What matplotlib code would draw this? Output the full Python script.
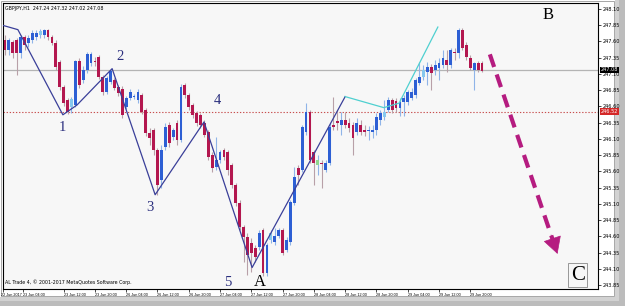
import matplotlib
matplotlib.use("Agg")
import matplotlib.pyplot as plt
from matplotlib.patches import Rectangle, FancyArrowPatch
from matplotlib.transforms import ScaledTranslation
import numpy as np

# ---------------- data (GBPJPY H1 candles) ----------------
opens = [247.62, 247.47, 247.59, 247.62, 247.42, 247.67, 247.58, 247.62, 247.67, 247.70,
         247.70, 247.78, 247.67, 247.58, 247.29, 246.90, 246.70, 246.59, 246.62, 247.30,
         247.01, 247.16, 247.27, 247.30, 247.36, 247.05, 246.82, 246.98, 247.01, 246.90,
         246.87, 246.59, 246.73, 246.75, 246.70, 246.78, 246.55, 246.19, 246.24, 245.93,
         245.47, 245.98, 246.32, 246.13, 246.35, 246.08, 246.93, 246.78, 246.62, 246.50,
         246.47, 246.35, 246.21, 245.85, 245.67, 245.78, 245.93, 245.90, 245.70, 245.39,
         245.12, 244.75, 244.59, 244.50, 244.42, 244.44, 244.70, 244.04, 244.55, 244.52,
         244.61, 244.70, 244.39, 244.52, 245.12, 245.65, 245.62, 246.21, 246.52, 245.90,
         245.70, 245.73, 245.62, 245.73, 246.32, 246.38, 246.32, 246.39, 246.35, 246.32,
         246.21, 246.32, 246.24, 246.22, 246.21, 246.24, 246.39, 246.44, 246.55, 246.70,
         246.69, 246.58, 246.67, 246.67, 246.73, 246.78, 246.96, 247.05, 247.13, 247.21,
         247.16, 247.19, 247.24, 247.32, 247.24, 247.44, 247.42, 247.78, 247.55, 247.35,
         247.16, 247.27, 247.27]
highs = [247.70, 247.65, 247.62, 247.65, 247.70, 247.70, 247.70, 247.78, 247.78, 247.79,
         247.79, 247.79, 247.70, 247.62, 247.32, 246.93, 246.73, 246.75, 247.32, 247.35,
         247.22, 247.44, 247.44, 247.36, 247.39, 247.08, 247.07, 247.18, 247.04, 246.93,
         246.92, 246.76, 246.87, 246.79, 246.87, 246.81, 246.58, 246.27, 246.27, 245.96,
         246.01, 246.35, 246.36, 246.27, 246.39, 246.95, 246.96, 246.81, 246.65, 246.53,
         246.50, 246.39, 246.24, 245.90, 246.13, 245.93, 245.96, 245.93, 245.73, 245.42,
         245.16, 244.78, 244.65, 244.58, 244.47, 244.70, 244.73, 244.50, 244.70, 244.73,
         244.73, 244.73, 244.59, 245.16, 245.67, 245.70, 246.32, 246.65, 246.55, 245.93,
         245.85, 245.78, 245.78, 246.35, 246.75, 246.55, 246.52, 246.52, 246.42, 246.36,
         246.42, 246.39, 246.32, 246.30, 246.32, 246.50, 246.55, 246.70, 246.75, 246.73,
         246.73, 246.73, 246.78, 246.85, 246.89, 247.04, 247.29, 247.24, 247.29, 247.25,
         247.32, 247.35, 247.47, 247.47, 247.50, 247.50, 247.81, 247.81, 247.59, 247.39,
         247.29, 247.30, 247.30]
lows = [247.39, 247.39, 247.35, 247.08, 247.35, 247.47, 247.52, 247.58, 247.62, 247.65,
        247.65, 247.62, 247.55, 247.16, 246.85, 246.61, 246.49, 246.50, 246.59, 246.89,
        246.96, 247.12, 247.22, 247.22, 247.02, 246.78, 246.79, 246.95, 246.85, 246.76,
        246.42, 246.56, 246.70, 246.72, 246.65, 246.49, 246.15, 246.01, 245.85, 245.24,
        245.35, 245.93, 245.98, 246.08, 246.01, 246.05, 246.73, 246.55, 246.42, 246.30,
        246.27, 246.13, 245.78, 245.59, 245.62, 245.73, 245.78, 245.55, 245.35, 245.07,
        244.70, 244.21, 244.01, 244.05, 244.21, 244.39, 243.99, 243.99, 244.50, 244.47,
        244.58, 244.32, 244.36, 244.47, 245.08, 245.39, 245.59, 246.16, 245.73, 245.39,
        245.55, 245.35, 245.59, 245.70, 246.24, 246.24, 246.16, 246.27, 246.21, 245.85,
        246.16, 246.16, 246.15, 246.08, 246.12, 246.16, 246.32, 246.39, 246.52, 246.50,
        246.52, 246.45, 246.45, 246.62, 246.70, 246.73, 246.93, 247.01, 246.93, 246.85,
        247.08, 247.01, 247.19, 247.13, 247.19, 247.32, 247.35, 247.47, 247.32, 247.16,
        246.85, 247.13, 247.13]
closes = [247.47, 247.62, 247.42, 247.42, 247.67, 247.55, 247.65, 247.73, 247.73, 247.76,
          247.78, 247.67, 247.58, 247.21, 246.90, 246.65, 246.52, 246.72, 247.30, 246.93,
          247.16, 247.41, 247.41, 247.29, 247.05, 246.82, 247.04, 247.15, 246.89, 246.81,
          246.47, 246.73, 246.82, 246.76, 246.82, 246.52, 246.19, 246.12, 245.93, 245.39,
          245.93, 246.29, 246.04, 246.24, 246.08, 246.90, 246.78, 246.59, 246.47, 246.35,
          246.32, 246.16, 245.82, 245.65, 245.78, 245.90, 245.82, 245.62, 245.39, 245.12,
          244.75, 244.59, 244.32, 244.35, 244.29, 244.65, 244.04, 244.47, 244.65, 244.61,
          244.70, 244.35, 244.55, 245.13, 245.52, 245.55, 246.29, 246.52, 245.78, 245.73,
          245.78, 245.72, 245.73, 246.29, 246.29, 246.35, 246.39, 246.32, 246.27, 246.12,
          246.35, 246.21, 246.21, 246.23, 246.24, 246.44, 246.50, 246.52, 246.70, 246.55,
          246.58, 246.67, 246.73, 246.82, 246.82, 247.01, 247.05, 247.16, 247.21, 247.12,
          247.24, 247.27, 247.35, 247.24, 247.47, 247.42, 247.78, 247.50, 247.36, 247.19,
          247.27, 247.16, 247.15]
light_bars = [9, 17, 68, 97, 107]
green_bars = [80]

# ZigZag (dark blue) and projection (cyan) pivots: bar index, price
zz_bar = [-0.8, 3.3, 14.8, 18.4, 27.4, 38.4, 50.9, 63.2, 87.0]
zz_price = [247.85, 247.78, 246.47, 246.62, 247.18, 245.24, 246.36, 244.12, 246.75]
cy_bar = [87.0, 96.9, 100.8, 110.7]
cy_price = [246.75, 246.58, 246.65, 247.82]

ytick_vals = [248.10, 247.85, 247.60, 247.35, 247.10, 246.85, 246.60, 246.35, 246.10,
              245.85, 245.60, 245.35, 245.10, 244.85, 244.60, 244.35, 244.10, 243.85]
xtick_pos = [-0.5, 4.6, 15, 23, 31, 39, 47, 55, 63, 71, 79, 87, 95, 103, 111, 119]
xtick_labels = ["22 Jun 2017", "23 Jun 04:00", "23 Jun 12:00", "23 Jun 20:00",
                "26 Jun 04:00", "26 Jun 12:00", "26 Jun 20:00", "27 Jun 04:00",
                "27 Jun 12:00", "27 Jun 20:00", "28 Jun 04:00", "28 Jun 12:00",
                "28 Jun 20:00", "29 Jun 04:00", "29 Jun 12:00", "29 Jun 20:00"]
bid_price = 247.16
bid_label = "247.08"
level_price = 246.52
level_label = "246.52"

# ---------------- figure ----------------
W, H = 625, 306
fig = plt.figure(figsize=(W / 100, H / 100), dpi=100)
fig.patch.set_facecolor("white")

# screenshot frame and shadow (drawn behind the axes)
for rect in [Rectangle((615 / W, 0), 10 / W, 1, facecolor="#d2d2d2", edgecolor="none"),
             Rectangle((0, 0), 1, 9 / H, facecolor="#d2d2d2", edgecolor="none"),
             Rectangle((619 / W, 0), 6 / W, 1, facecolor="#bcbcbc", edgecolor="none"),
             Rectangle((0, 0), 1, 5 / H, facecolor="#bcbcbc", edgecolor="none"),
             Rectangle((1 / W, 10 / H), 613 / W, 295 / H, facecolor="white",
                       edgecolor="#999999", linewidth=0.6)]:
    rect.set_transform(fig.transFigure)
    rect.set_zorder(-10)
    fig.patches.append(rect)

ax = fig.add_axes([3 / W, (H - 289) / H, 595 / W, 286 / H])
ax.set_zorder(1)
ax.set_facecolor("#f7f7f7")
ax.set_xlim(-0.51, 151.66)
ax.set_ylim(243.79, 248.19)

n = len(opens)
idx = np.arange(n)
o = np.array(opens); c = np.array(closes); hi = np.array(highs); lo = np.array(lows)
bull = c >= o
colors = np.where(bull, "#2d5fd4", "#b3174f").astype(object)
for k in light_bars:
    colors[k] = "#86c8ee"
for k in green_bars:
    colors[k] = "#8fd68f"
wick_colors = np.where(bull, "#8fb4e8", "#b8a0a8").astype(object)

ax.vlines(idx, lo, hi, colors=list(wick_colors), linewidth=0.8, zorder=2)
body_bottom = np.minimum(o, c)
body_h = np.maximum(np.abs(c - o), 0.012)
ax.bar(idx, body_h, bottom=body_bottom, width=0.72, color=list(colors),
       edgecolor="none", zorder=3)

# horizontal levels
ax.axhline(bid_price, color="#b4b4b4", linewidth=0.9, zorder=1)
ax.axhline(level_price, color="#c85050", linewidth=0.8, linestyle=(0, (1.2, 1.6)), zorder=1)

# zigzag lines
ax.plot(zz_bar, zz_price, color="#3a3f99", linewidth=0.9, zorder=4)
ax.plot(cy_bar, cy_price, color="#4fd0d0", linewidth=0.9, zorder=4)

# wave labels
lab_kw = dict(family="Liberation Serif", color="#2b2f7e", ha="center", va="center",
              fontsize=10.5, zorder=6)
ax.text(14.8, 246.27, "1", **lab_kw)
ax.text(29.4, 247.36, "2", **lab_kw)
ax.text(37.1, 245.05, "3", **lab_kw)
ax.text(54.2, 246.69, "4", **lab_kw)
ax.text(57.0, 243.89, "5", **lab_kw)
ax.text(65.2, 243.90, "A", family="Liberation Serif", color="black", ha="center",
        va="center", fontsize=12, zorder=6)
ax.text(138.9, 248.01, "B", family="Liberation Serif", color="black", ha="center",
        va="center", fontsize=12, zorder=6)
ax.text(146.5, 244.00, "C", family="Liberation Serif", color="black", ha="center",
        va="center", fontsize=15, zorder=6,
        bbox=dict(boxstyle="square,pad=0.12", facecolor="none", edgecolor="#888888",
                  linewidth=0.6))

# projected move arrow: dashed shaft + solid head
a0 = np.array([124.0, 247.40])
a1 = np.array([141.3, 244.33])
shaft_end = a0 + 0.93 * (a1 - a0)
ax.plot([a0[0], shaft_end[0]], [a0[1], shaft_end[1]], color="#b51c80", linewidth=3.0,
        linestyle=(0, (3.2, 1.9)), solid_capstyle="butt", dash_capstyle="butt", zorder=5)
head_start = a0 + 0.905 * (a1 - a0)
head = FancyArrowPatch(tuple(head_start), tuple(a1),
                       arrowstyle="-|>,head_length=1.0,head_width=0.55",
                       mutation_scale=11, color="#b51c80", linewidth=0.5,
                       shrinkA=0, shrinkB=0, zorder=5)
ax.add_patch(head)

# axes styling
for s in ax.spines.values():
    s.set_color("black")
    s.set_linewidth(0.8)
ax.yaxis.tick_right()
ax.set_yticks(ytick_vals)
ax.set_yticklabels([f"{v:.2f}" for v in ytick_vals])
ax.tick_params(axis="y", labelsize=3.6, length=2, pad=1.5, width=0.5, colors="black")
ax.set_xticks(xtick_pos)
ax.set_xticklabels(xtick_labels, ha="left", family="Liberation Sans")
ax.tick_params(axis="x", labelsize=2.7, length=2, pad=1.0, width=0.5, colors="black")
first = ax.get_xticklabels()[0]
first.set_transform(first.get_transform() + ScaledTranslation(-2 / 100, 0, fig.dpi_scale_trans))

# price boxes on the axis
ax.text(1.004, bid_price, bid_label, transform=ax.get_yaxis_transform(), fontsize=3.6,
        color="white", va="center", ha="left",
        bbox=dict(boxstyle="square,pad=0.15", facecolor="black", edgecolor="none"))
ax.text(1.004, level_price, level_label, transform=ax.get_yaxis_transform(), fontsize=3.6,
        color="white", va="center", ha="left",
        bbox=dict(boxstyle="square,pad=0.15", facecolor="#d42828", edgecolor="none"))

# header / footer texts
ax.text(0.004, 0.99, "GBPJPY,H1  247.24 247.32 247.02 247.08", transform=ax.transAxes,
        fontsize=3.4, va="top", ha="left", color="black")
ax.text(0.004, 0.015, "AL Trade 4, \u00a9 2001-2017 MetaQuotes Software Corp.",
        transform=ax.transAxes, fontsize=3.4, va="bottom", ha="left", color="black")

fig.savefig("out.png", dpi=100, facecolor=fig.get_facecolor())
